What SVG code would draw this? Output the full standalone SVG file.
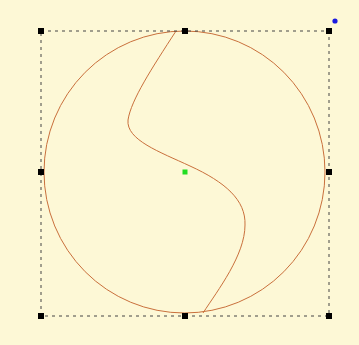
<svg xmlns="http://www.w3.org/2000/svg" width="359" height="345" viewBox="0 0 359 345">
  <style>
    .bg { fill: #fdf8d6; }
    .box { fill: none; stroke: #444; stroke-width: 1; stroke-dasharray: 3 4; }
    .shape { fill: none; stroke: #c9703c; stroke-width: 1; }
    .handle { fill: #000; }
  </style>
  <defs>
    <rect id="h" class="handle" x="-3" y="-3" width="6" height="6"/>
  </defs>
  <rect class="bg" x="0" y="0" width="359" height="345"/>
  <g id="shape">
    <ellipse class="shape" cx="184.5" cy="172" rx="140.5" ry="141"/>
    <path class="shape" d="M176,31 C152,68 131,100 128,120 C126,140 160,152 190,166 C225,182 246,200 245,225 C245,255 218,290 203,313"/>
  </g>
  <g id="selection">
    <rect class="box" x="41" y="31" width="288" height="285"/>
    <use href="#h" x="41" y="31"/>
    <use href="#h" x="185" y="31"/>
    <use href="#h" x="329" y="31"/>
    <use href="#h" x="41" y="172"/>
    <use href="#h" x="329" y="172"/>
    <use href="#h" x="41" y="316"/>
    <use href="#h" x="185" y="316"/>
    <use href="#h" x="329" y="316"/>
    <rect id="center" x="182.5" y="169.5" width="5" height="5" fill="#22dd22"/>
    <circle id="rotate" cx="335" cy="21" r="2.6" fill="#1a1ae0"/>
  </g>
</svg>
